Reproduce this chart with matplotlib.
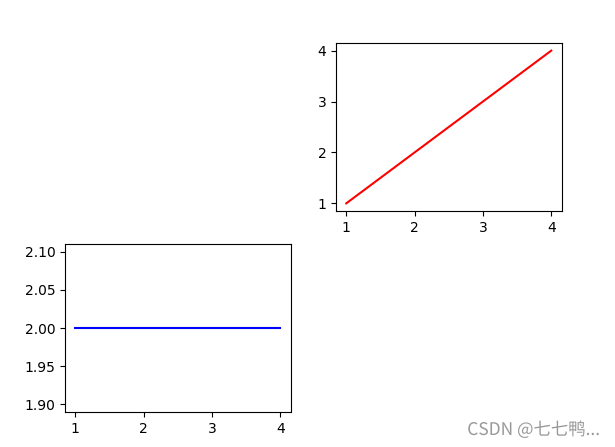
import matplotlib
matplotlib.use('Agg')
import matplotlib.pyplot as plt
import matplotlib.patheffects as pe

# data
x = [1, 2, 3, 4]
y_red = [1, 2, 3, 4]
y_blue = [2, 2, 2, 2]

W, H = 615, 447
fig = plt.figure(figsize=(W / 100, H / 100), dpi=100)

# axes boxes in pixels (left, top, width, height)
def box(l, t, w, h):
    return [l / W, (H - t - h) / H, w / W, h / H]

ax1 = fig.add_axes(box(336, 43, 225.5, 168))
ax1.plot(x, y_red, color='r')

ax2 = fig.add_axes(box(65, 244, 225.5, 168))
ax2.plot(x, y_blue, color='b')

fig.text(0.975, 0.018, 'CSDN @七七鸭...', ha='right', va='bottom',
         fontsize=12.5, color='#999999',
         family=['Noto Sans CJK SC', 'DejaVu Sans'],
         path_effects=[pe.withStroke(linewidth=2, foreground='white')])

fig.savefig('out.png', dpi=100)
